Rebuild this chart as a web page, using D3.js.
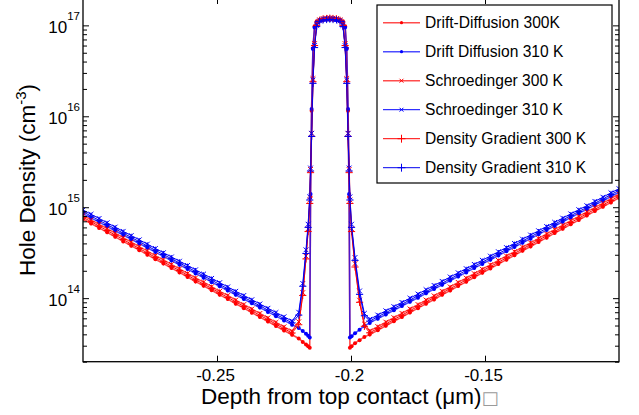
<!DOCTYPE html>
<html><head><meta charset="utf-8">
<script src="https://cdn.jsdelivr.net/npm/d3@7"></script>
<style>body{margin:0;background:#fff}svg{display:block}text{font-family:"Liberation Sans",Arial,sans-serif}</style>
</head><body><svg id="c" width="639" height="415"></svg>
<script>
// depth grid (um)
const depth = [
-0.300,-0.297,-0.294,-0.291,-0.288,-0.285,-0.282,-0.279,-0.276,-0.273,-0.270,-0.267,-0.264,-0.261,-0.258,-0.255,-0.252,-0.249,-0.246,-0.243,-0.240,-0.237,-0.234,-0.231,-0.228,-0.225,-0.222,
-0.2195,-0.2180,-0.2168,-0.2160,-0.2154,-0.2151,-0.2147,-0.2142,-0.2136,-0.2128,-0.2117,-0.2104,-0.2091,-0.2079,-0.2067,-0.2054,-0.2041,-0.2030,-0.2022,-0.2016,-0.2011,-0.2007,-0.2004,-0.1998,-0.1985,-0.1968,-0.1950,
-0.193,-0.190,-0.187,-0.184,-0.181,-0.178,-0.175,-0.172,-0.169,-0.166,-0.163,-0.160,-0.157,-0.154,-0.151,-0.148,-0.145,-0.142,-0.139,-0.136,-0.133,-0.130,-0.127,-0.124,-0.121,-0.118,-0.115,-0.112,-0.109,-0.106,-0.103,-0.100];

// hole density (cm^-3)
const driftDiffusion300 = [
7.41e14,6.62e14,5.92e14,5.29e14,4.72e14,4.21e14,3.77e14,3.37e14,3.01e14,2.68e14,2.40e14,2.14e14,1.92e14,1.71e14,1.52e14,1.37e14,1.22e14,1.09e14,9.76e13,8.69e13,7.76e13,6.93e13,6.19e13,5.54e13,4.94e13,4.41e13,3.95e13,
3.6e13,3.3e13,3.1e13,2.95e13,2.85e13,1.3e15,1.15e16,5.6e16,9.8e16,1.11e17,1.15e17,1.17e17,1.18e17,1.18e17,1.18e17,1.17e17,1.15e17,1.11e17,9.8e16,5.6e16,1.15e16,1.3e15,2.85e13,2.95e13,3.2e13,3.45e13,3.75e13,
3.98e13,4.44e13,4.97e13,5.56e13,6.21e13,6.95e13,7.76e13,8.69e13,9.67e13,1.09e14,1.21e14,1.36e14,1.51e14,1.70e14,1.90e14,2.12e14,2.37e14,2.65e14,2.96e14,3.32e14,3.70e14,4.15e14,4.63e14,5.19e14,5.79e14,6.48e14,7.24e14,8.11e14,9.06e14,1.01e15,1.13e15,1.27e15];
const driftDiffusion310 = [
8.51e14,7.63e14,6.86e14,6.16e14,5.52e14,4.95e14,4.45e14,3.99e14,3.58e14,3.21e14,2.88e14,2.59e14,2.33e14,2.09e14,1.87e14,1.68e14,1.50e14,1.35e14,1.21e14,1.09e14,9.76e13,8.77e13,7.87e13,7.06e13,6.34e13,5.69e13,5.11e13,
4.7e13,4.35e13,4.05e13,3.85e13,3.68e13,1.4e15,1.2e16,5.5e16,9.5e16,1.08e17,1.12e17,1.14e17,1.15e17,1.15e17,1.15e17,1.14e17,1.12e17,1.08e17,9.5e16,5.5e16,1.2e16,1.4e15,3.68e13,3.8e13,4.1e13,4.5e13,4.95e13,
5.34e13,5.95e13,6.62e13,7.36e13,8.19e13,9.12e13,1.01e14,1.13e14,1.26e14,1.40e14,1.56e14,1.73e14,1.92e14,2.14e14,2.38e14,2.64e14,2.95e14,3.28e14,3.65e14,4.07e14,4.51e14,5.03e14,5.60e14,6.22e14,6.92e14,7.71e14,8.57e14,9.48e14,1.06e15,1.18e15,1.31e15,1.46e15];
const schroedinger300 = [
8.13e14,7.26e14,6.49e14,5.80e14,5.18e14,4.62e14,4.13e14,3.69e14,3.30e14,2.94e14,2.63e14,2.35e14,2.10e14,1.87e14,1.67e14,1.50e14,1.34e14,1.19e14,1.07e14,9.53e13,8.51e13,7.60e13,6.79e13,6.07e13,5.42e13,4.84e13,4.33e13,
5.5e13,1.15e14,2.9e14,5.8e14,1.2e15,2.6e15,6.5e15,2.6e16,6.3e16,1.03e17,1.15e17,1.19e17,1.2e17,1.21e17,1.2e17,1.19e17,1.15e17,1.03e17,6.3e16,2.6e16,6.5e15,2.6e15,1.2e15,5.8e14,2.4e14,9.5e13,5.2e13,
4.36e13,4.87e13,5.45e13,6.10e13,6.81e13,7.62e13,8.51e13,9.53e13,1.06e14,1.19e14,1.33e14,1.49e14,1.66e14,1.86e14,2.08e14,2.33e14,2.60e14,2.91e14,3.25e14,3.64e14,4.06e14,4.55e14,5.08e14,5.69e14,6.35e14,7.11e14,7.94e14,8.89e14,9.93e14,1.11e15,1.24e15,1.39e15];
const schroedinger310 = [
9.33e14,8.37e14,7.52e14,6.75e14,6.05e14,5.43e14,4.88e14,4.38e14,3.93e14,3.52e14,3.16e14,2.84e14,2.55e14,2.29e14,2.05e14,1.84e14,1.65e14,1.48e14,1.33e14,1.19e14,1.07e14,9.62e13,8.63e13,7.74e13,6.95e13,6.24e13,5.60e13,
7.0e13,1.45e14,3.4e14,6.5e14,1.3e15,2.7e15,6.5e15,2.5e16,6.0e16,1.0e17,1.12e17,1.16e17,1.17e17,1.18e17,1.17e17,1.16e17,1.12e17,1.0e17,6.0e16,2.5e16,6.5e15,2.7e15,1.3e15,6.5e14,2.8e14,1.2e14,6.8e13,
5.86e13,6.52e13,7.26e13,8.07e13,8.98e13,1.00e14,1.11e14,1.24e14,1.38e14,1.53e14,1.71e14,1.90e14,2.11e14,2.35e14,2.61e14,2.90e14,3.24e14,3.60e14,4.00e14,4.46e14,4.95e14,5.51e14,6.14e14,6.82e14,7.59e14,8.45e14,9.40e14,1.04e15,1.16e15,1.29e15,1.44e15,1.60e15];
const densityGradient300 = [
7.76e14,6.93e14,6.20e14,5.54e14,4.95e14,4.41e14,3.94e14,3.52e14,3.15e14,2.81e14,2.51e14,2.24e14,2.01e14,1.79e14,1.59e14,1.43e14,1.28e14,1.14e14,1.02e14,9.10e13,8.13e13,7.26e13,6.48e13,5.80e13,5.18e13,4.62e13,4.14e13,
5.1e13,1.07e14,2.7e14,5.4e14,1.1e15,2.4e15,6.0e15,2.4e16,6.0e16,1.0e17,1.14e17,1.18e17,1.19e17,1.2e17,1.19e17,1.18e17,1.14e17,1.0e17,6.0e16,2.4e16,6.0e15,2.4e15,1.1e15,5.4e14,2.2e14,9.0e13,4.9e13,
4.16e13,4.65e13,5.20e13,5.83e13,6.50e13,7.28e13,8.13e13,9.10e13,1.01e14,1.14e14,1.27e14,1.42e14,1.59e14,1.78e14,1.99e14,2.23e14,2.48e14,2.78e14,3.10e14,3.48e14,3.88e14,4.35e14,4.85e14,5.43e14,6.06e14,6.79e14,7.58e14,8.49e14,9.48e14,1.06e15,1.18e15,1.33e15];
const densityGradient310 = [
8.91e14,7.99e14,7.18e14,6.45e14,5.78e14,5.19e14,4.66e14,4.18e14,3.75e14,3.36e14,3.02e14,2.71e14,2.44e14,2.19e14,1.96e14,1.76e14,1.58e14,1.41e14,1.27e14,1.14e14,1.02e14,9.19e13,8.24e13,7.39e13,6.64e13,5.96e13,5.35e13,
6.5e13,1.35e14,3.1e14,6.0e14,1.2e15,2.5e15,6.0e15,2.3e16,5.7e16,9.7e16,1.11e17,1.15e17,1.16e17,1.17e17,1.16e17,1.15e17,1.11e17,9.7e16,5.7e16,2.3e16,6.0e15,2.5e15,1.2e15,6.0e14,2.6e14,1.1e14,6.4e13,
5.60e13,6.23e13,6.93e13,7.71e13,8.58e13,9.55e13,1.06e14,1.18e14,1.32e14,1.46e14,1.63e14,1.81e14,2.02e14,2.24e14,2.49e14,2.77e14,3.09e14,3.44e14,3.82e14,4.26e14,4.73e14,5.26e14,5.86e14,6.51e14,7.25e14,8.07e14,8.98e14,9.93e14,1.11e15,1.23e15,1.38e15,1.53e15];

const seriesNames = ["Drift-Diffusion 300K","Drift Diffusion 310 K","Schroedinger 300 K","Schroedinger 310 K","Density Gradient 300 K","Density Gradient 310 K"];
const xTicks = [-0.25,-0.2,-0.15];
const xTickLabels = ["-0.25","-0.2","-0.15"];
const yDecades = [1e14,1e15,1e16,1e17];
const yExponents = ["14","15","16","17"];
const xDomain = [-0.3,-0.1];
const yDomain = [2e13,2e17];

const L=83,R=619,T=-2,B=361.7;
const x = d3.scaleLinear().domain(xDomain).range([L,R]);
const y = d3.scaleLog().domain(yDomain).range([B,T]);
const svg = d3.select("#c");
svg.append("rect").attr("width",639).attr("height",415).attr("fill","#fff");
svg.append("defs").append("clipPath").attr("id","clip").append("rect")
  .attr("x",L).attr("y",T).attr("width",R-L).attr("height",B-T);

const series = [
 {vals:driftDiffusion300, color:"#ff0000", marker:"dot", op:0.7, w:1.6},
 {vals:driftDiffusion310, color:"#0000ff", marker:"dot", op:0.7, w:1.6},
 {vals:schroedinger300, color:"#ff0000", marker:"x", op:0.7, w:1.4},
 {vals:schroedinger310, color:"#0000ff", marker:"x", op:1, w:1},
 {vals:densityGradient300, color:"#ff0000", marker:"plus", op:1, w:1},
 {vals:densityGradient310, color:"#0000ee", marker:"plus", op:1, w:1}
];
series.forEach((s,i)=>s.name=seriesNames[i]);

function drawMarker(sel, type, color, size){
  if(type==="dot"){
    sel.append("circle").attr("r",2*size).attr("fill",color);
  } else if(type==="x"){
    const a=2.4*size;
    sel.append("path").attr("d",`M${-a},${-a}L${a},${a}M${-a},${a}L${a},${-a}`).attr("stroke",color).attr("stroke-width",1).attr("fill","none");
  } else {
    const a=3.6*size;
    sel.append("path").attr("d",`M${-a},0H${a}M0,${-a}V${a}`).attr("stroke",color).attr("stroke-width",1).attr("fill","none");
  }
}

const plot = svg.append("g").attr("clip-path","url(#clip)");
const line = d3.line().x(d=>x(d[0])).y(d=>y(d[1]));
series.forEach(s=>{
  const pts = depth.map((d,i)=>[d,s.vals[i]]);
  const g = plot.append("g");
  g.append("path").attr("d",line(pts)).attr("fill","none")
    .attr("stroke",s.color).attr("stroke-width",s.w).attr("stroke-opacity",s.op);
  pts.forEach(p=>{
    const m = g.append("g").attr("transform",`translate(${x(p[0])},${y(p[1])})`);
    drawMarker(m, s.marker, s.color, 1);
  });
});

// axes
const minor = y.ticks().filter(v=>!yDecades.some(d=>Math.abs(v/d-1)<1e-6));
function styleAxis(g){ g.select(".domain").remove(); g.selectAll("line").attr("stroke","#000"); }
svg.append("g").attr("transform",`translate(0,${B})`)
  .call(d3.axisBottom(x).tickValues(xTicks).tickFormat((d,i)=>xTickLabels[i]).tickSizeInner(-6).tickSizeOuter(0).tickPadding(7))
  .call(styleAxis)
  .call(g=>g.selectAll("text").attr("font-size",17).attr("font-family","Liberation Sans, Arial, sans-serif").attr("fill","#000").attr("dx",-2));
svg.append("g").attr("transform",`translate(0,${T})`)
  .call(d3.axisTop(x).tickValues(xTicks).tickFormat("").tickSizeInner(-6).tickSizeOuter(0)).call(styleAxis);
svg.append("g").attr("transform",`translate(${L},0)`)
  .call(d3.axisLeft(y).tickValues(yDecades).tickFormat("").tickSizeInner(-6).tickSizeOuter(0)).call(styleAxis);
svg.append("g").attr("transform",`translate(${L},0)`)
  .call(d3.axisLeft(y).tickValues(minor).tickFormat("").tickSizeInner(-4).tickSizeOuter(0)).call(styleAxis);
svg.append("g").attr("transform",`translate(${R},0)`)
  .call(d3.axisRight(y).tickValues(yDecades).tickFormat("").tickSizeInner(-6).tickSizeOuter(0)).call(styleAxis);
svg.append("g").attr("transform",`translate(${R},0)`)
  .call(d3.axisRight(y).tickValues(minor).tickFormat("").tickSizeInner(-4).tickSizeOuter(0)).call(styleAxis);
svg.append("rect").attr("x",L).attr("y",T).attr("width",R-L).attr("height",B-T)
  .attr("fill","none").attr("stroke","#000").attr("stroke-width",1.3);

// y tick labels 10^n
yDecades.forEach((v,i)=>{
  const t = svg.append("text").attr("x",80).attr("y",y(v)+8).attr("text-anchor","end").attr("font-size",17).attr("fill","#000");
  t.append("tspan").text("10");
  t.append("tspan").attr("dy",-13).attr("font-size",11.5).text(yExponents[i]);
});

// axis titles
const yl = svg.append("text").attr("transform","translate(35,180) rotate(-90)").attr("text-anchor","middle")
  .attr("font-size",22.5).attr("fill","#000");
yl.append("tspan").text("Hole Density (cm");
yl.append("tspan").attr("dy",-9).attr("font-size",15).text("-3");
yl.append("tspan").attr("dy",9).text(")");
const xl = svg.append("text").attr("x",201).attr("y",404).attr("font-size",22.5).attr("fill","#000");
xl.append("tspan").text("Depth from top contact (\u03bcm)");
xl.append("tspan").attr("fill","#9a9a9a").attr("font-family","DejaVu Sans").attr("font-size",18).text("\u25a1");

// legend
const lg = svg.append("g");
lg.append("rect").attr("x",377).attr("y",5).attr("width",235).attr("height",178)
  .attr("fill","#fff").attr("stroke","#000").attr("stroke-width",1.2);
series.forEach((s,i)=>{
  const cy = 22.7 + i*29;
  lg.append("line").attr("x1",383).attr("x2",420).attr("y1",cy).attr("y2",cy)
    .attr("stroke",s.color).attr("stroke-width",s.w).attr("stroke-opacity",s.op);
  const m = lg.append("g").attr("transform",`translate(401.5,${cy})`);
  drawMarker(m, s.marker, s.color, s.marker==="plus"?1.1:0.8);
  lg.append("text").attr("x",425).attr("y",cy+5.6).attr("font-size",15.6).attr("fill","#000").text(s.name);
});
</script></body></html>
